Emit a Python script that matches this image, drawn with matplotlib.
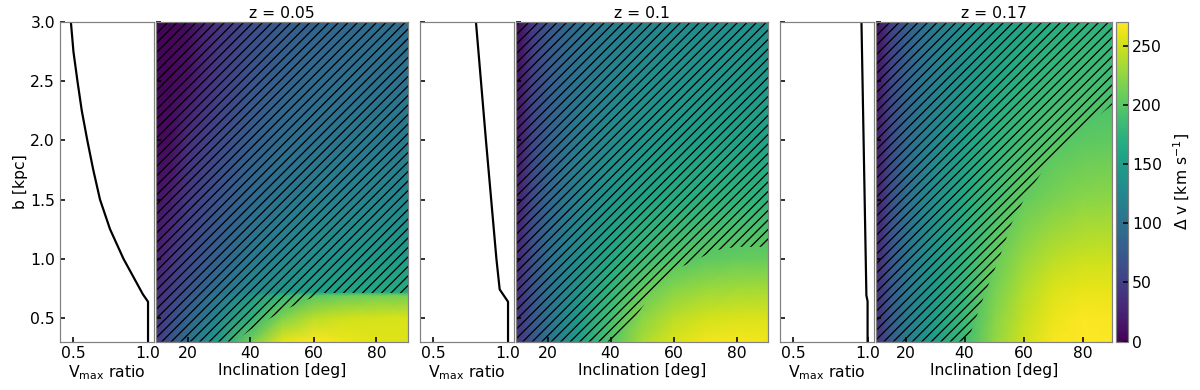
import numpy as np
import matplotlib

matplotlib.use("Agg")

import matplotlib.pyplot as plt

# --- datos ---------------------------------------------------------------
TITLES = ["z = 0.05", "z = 0.1", "z = 0.17"]

INC = [10, 15, 20, 25, 30, 40, 50, 60, 70, 80, 90]

B_1 = [0.3, 0.5, 0.69, 0.72, 1.0, 1.5, 2.0, 2.5, 3.0]
DV_1 = [
    [45, 72, 100, 125, 150, 210, 258, 268, 262, 258, 256],
    [40, 62, 85, 105, 125, 172, 218, 242, 250, 253, 255],
    [32, 52, 72, 90, 108, 142, 178, 200, 208, 212, 214],
    [30, 50, 68, 85, 100, 126, 142, 152, 159, 163, 166],
    [22, 40, 58, 72, 85, 108, 124, 134, 141, 146, 149],
    [12, 25, 45, 58, 70, 92, 106, 115, 120, 124, 126],
    [6, 10, 35, 48, 60, 80, 94, 102, 107, 110, 112],
    [4, 6, 12, 32, 48, 70, 84, 93, 98, 101, 103],
    [3, 5, 8, 25, 40, 62, 76, 85, 91, 95, 97],
]

B_2 = [0.3, 0.5, 0.75, 1.0, 1.5, 2.0, 2.5, 3.0]
DV_2 = [
    [38, 72, 102, 127, 150, 196, 235, 255, 264, 266, 264],
    [35, 70, 100, 124, 146, 188, 222, 242, 252, 255, 255],
    [30, 68, 98, 120, 140, 176, 203, 220, 228, 232, 233],
    [25, 65, 95, 114, 132, 162, 183, 196, 203, 206, 207],
    [18, 60, 88, 105, 120, 142, 157, 166, 172, 175, 176],
    [12, 55, 82, 98, 111, 129, 141, 148, 153, 156, 157],
    [8, 50, 76, 92, 104, 120, 130, 137, 141, 144, 145],
    [5, 45, 70, 85, 97, 112, 121, 127, 131, 134, 135],
]

B_3 = [0.3, 0.5, 0.75, 1.0, 1.5, 2.0, 2.5, 3.0]
DV_3 = [
    [36, 77, 110, 132, 152, 185, 224, 250, 266, 270, 268],
    [34, 75, 108, 130, 150, 183, 220, 245, 262, 268, 267],
    [31, 73, 105, 127, 147, 180, 213, 238, 255, 260, 260],
    [28, 70, 102, 124, 143, 176, 205, 228, 242, 248, 249],
    [22, 65, 96, 116, 134, 163, 187, 205, 216, 222, 224],
    [16, 60, 90, 109, 125, 151, 172, 187, 197, 202, 204],
    [12, 55, 84, 102, 117, 141, 159, 172, 181, 186, 188],
    [8, 50, 78, 96, 110, 132, 148, 160, 168, 173, 175],
]

# borde inferior de la zona rayada (inclinacion, b)
HATCH_INC_1 = [10, 35, 40, 49, 55, 63, 90]
HATCH_B_1 = [0.3, 0.3, 0.40, 0.54, 0.62, 0.71, 0.71]
HATCH_INC_2 = [10, 42, 49, 55, 60, 68, 73, 80, 90]
HATCH_B_2 = [0.3, 0.3, 0.55, 0.77, 0.90, 1.0, 1.07, 1.10, 1.10]
HATCH_INC_3 = [10, 41, 47, 52, 56, 61, 69, 80, 90]
HATCH_B_3 = [0.3, 0.3, 0.71, 1.02, 1.30, 1.54, 1.83, 2.10, 2.30]

# cociente de Vmax frente a b
VB_1 = [3.0, 2.75, 2.5, 2.25, 2.0, 1.75, 1.5, 1.25, 1.0, 0.85, 0.7, 0.636, 0.3]
VR_1 = [0.483, 0.50, 0.527, 0.556, 0.593, 0.633, 0.678, 0.745, 0.835, 0.90, 0.965, 1.0, 1.0]
VB_2 = [3.0, 2.0, 1.0, 0.74, 0.636, 0.3]
VR_2 = [0.785, 0.852, 0.922, 0.944, 1.0, 1.0]
VB_3 = [3.0, 0.69, 0.64, 0.3]
VR_3 = [0.956, 0.989, 0.997, 0.997]

VMAX = 270
CBAR_TICKS = [0, 50, 100, 150, 200, 250]

# --- estilo ---------------------------------------------------------------
W, H = 1200, 390
DPI = 114  # elegido para que el rayado tenga el paso del original
PT = 72.0 / DPI  # puntos por pixel
SPINE = "0.5"
FS = 15.6 * PT

plt.rcParams["font.family"] = "DejaVu Sans"
plt.rcParams["font.size"] = FS
plt.rcParams["hatch.linewidth"] = 1.3 * PT


def px_axes(fig, x0, x1, y0=22, y1=341.5):
    """Crea un eje a partir de coordenadas en pixeles (origen arriba)."""
    return fig.add_axes([x0 / W, 1 - y1 / H, (x1 - x0) / W, (y1 - y0) / H])


def style(ax):
    for s in ax.spines.values():
        s.set_color(SPINE)
        s.set_linewidth(1.2 * PT)
    ax.tick_params(direction="in", length=5 * PT, width=1.6 * PT, color="k",
                   labelsize=FS, top=False, right=False, pad=5 * PT)


def main():
    fig = plt.figure(figsize=(W / DPI, H / DPI), dpi=DPI)

    panels = [
        (60, 154, 156, 408, B_1, DV_1, HATCH_INC_1, HATCH_B_1, VB_1, VR_1),
        (420, 514, 516, 768, B_2, DV_2, HATCH_INC_2, HATCH_B_2, VB_2, VR_2),
        (780, 874, 876, 1112, B_3, DV_3, HATCH_INC_3, HATCH_B_3, VB_3, VR_3),
    ]

    mesh = None
    for i, (l0, l1, r0, r1, bb, dv, hi, hb, vb, vr) in enumerate(panels):
        # eje izquierdo: cociente de Vmax
        axl = px_axes(fig, l0, l1)
        axl.plot(vr, vb, color="k", lw=2.2 * PT)
        axl.set_xlim(0.41, 1.04)
        axl.set_ylim(0.3, 3.0)
        axl.set_xticks([0.5, 1.0])
        axl.set_yticks([0.5, 1.0, 1.5, 2.0, 2.5, 3.0])
        axl.set_xlabel(r"V$_{\rm max}$ ratio", labelpad=1)
        style(axl)
        if i == 0:
            axl.set_ylabel("b [kpc]", labelpad=1)
        else:
            axl.set_yticklabels([])

        # eje derecho: mapa de Delta v
        axr = px_axes(fig, r0, r1)
        X, Y = np.meshgrid(INC, bb)
        mesh = axr.pcolormesh(X, Y, np.array(dv), cmap="viridis",
                              vmin=0, vmax=VMAX, shading="gouraud")
        axr.fill_between(hi, hb, 3.0, facecolor="none", edgecolor="k",
                         hatch="////", linewidth=0)
        axr.set_xlim(10, 90)
        axr.set_ylim(0.3, 3.0)
        axr.set_xticks([20, 40, 60, 80])
        axr.set_yticks([0.5, 1.0, 1.5, 2.0, 2.5, 3.0])
        axr.set_yticklabels([])
        axr.set_xlabel("Inclination [deg]", labelpad=1)
        axr.set_title(TITLES[i], fontsize=FS, pad=4 * PT)
        style(axr)

    cax = px_axes(fig, 1116, 1128)
    cb = fig.colorbar(mesh, cax=cax, ticks=CBAR_TICKS)
    cb.outline.set_edgecolor(SPINE)
    cb.outline.set_linewidth(1.2 * PT)
    cb.ax.tick_params(direction="in", length=5 * PT, width=1.6 * PT,
                      labelsize=FS, pad=4 * PT)
    cb.set_label(r"$\Delta$ v [km s$^{-1}$]", labelpad=10 * PT)

    fig.savefig("out.png", dpi=DPI)
    plt.close(fig)


if __name__ == "__main__":
    main()
